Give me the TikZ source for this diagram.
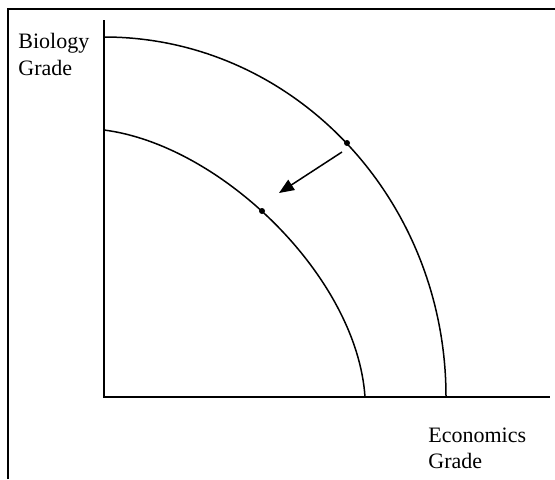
\documentclass[tikz,border=0pt]{standalone}
\usepackage{fontspec}
\setmainfont{Liberation Serif}
\usepackage{tikz}
\usetikzlibrary{arrows.meta}
\usetikzlibrary{positioning}

\tikzset{
  curve/.style={line width=0.75pt},
  axis/.style={line width=1.1pt},
  lbl/.style={anchor=base west, inner sep=0pt, font=\fontsize{11}{13}\selectfont},
  dot/.style={fill, circle, inner sep=0pt, minimum size=3pt}
}

\begin{document}
\begin{tikzpicture}[x=0.5pt,y=0.5pt]
    \useasboundingbox (0,0) rectangle (555,479);
    % frame
    \draw[line width=1pt] (8,0) -- (8,470) -- (555,470);
    % axes
    \coordinate (O) at (104,82);
    \draw[axis] (104,459) -- (O) -- (550,82);
    \node[lbl] (bio) at (18,431) {Biology};
    \node[lbl] (bioG) at (18,404) {Grade};
    \node[lbl] (eco) at (428,37) {Economics};
    \node[lbl] (ecoG) at (428,11) {Grade};

    % outer and inner curves
    \draw[curve] (104,442) arc[start angle=90, end angle=0, x radius=342, y radius=360];
    \draw[curve] (104,349) .. controls (221,334) and (357,202) .. (365,82);

    \node[dot] (A) at (347,336) {};
    \node[dot] (B) at (262,268) {};
    \coordinate (from) at (342,327);
    \coordinate (to) at (279,286);
    \draw[curve, -{Triangle[length=7.5pt,width=6pt]}] (from) -- (to);
\end{tikzpicture}
\end{document}
